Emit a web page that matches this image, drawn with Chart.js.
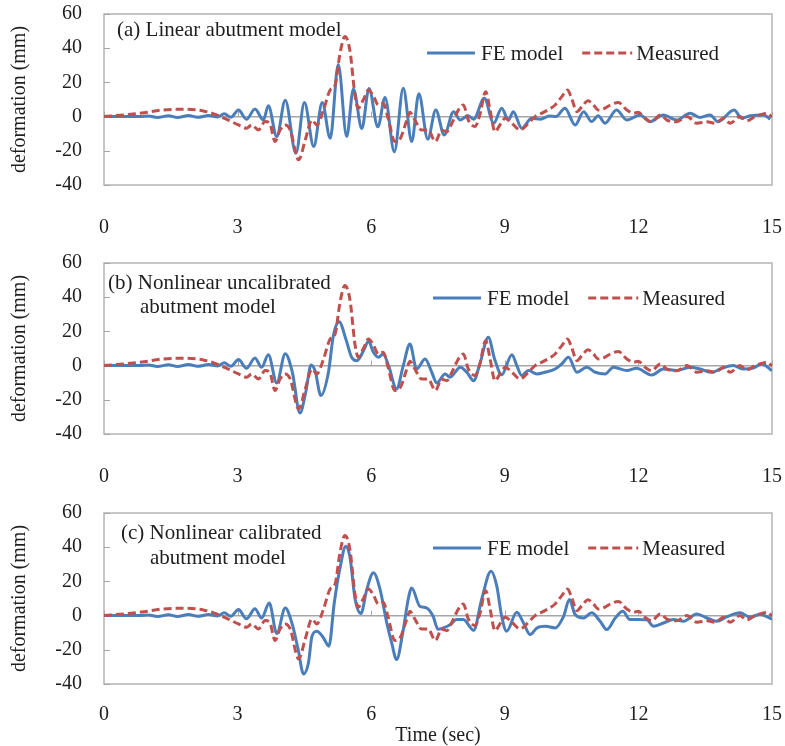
<!DOCTYPE html>
<html><head><meta charset="utf-8">
<script src="https://cdn.jsdelivr.net/npm/chart.js@4.4.0/dist/chart.umd.min.js"></script>
<style>
html,body{margin:0;padding:0;background:#fff;}
#wrap{position:relative;width:785px;height:746px;overflow:hidden;background:#fff;}
.pane{position:absolute;left:0;width:785px;}
</style></head>
<body><div id="wrap">
<div class="pane" style="top:0px;height:245px"><canvas id="ca" width="785" height="245"></canvas></div>
<div class="pane" style="top:245px;height:245px"><canvas id="cb" width="785" height="245"></canvas></div>
<div class="pane" style="top:490px;height:256px"><canvas id="cc" width="785" height="256"></canvas></div>
</div>
<script>
// ---- data (time in sec, deformation in mm) ----
const xTickValues = [0, 3, 6, 9, 12, 15];
const yTickValues = [-40, -20, 0, 20, 40, 60];
const seriesNames = ['FE model', 'Measured'];
const panelTitles = [
  ['(a) Linear abutment model'],
  ['(b) Nonlinear uncalibrated', 'abutment model'],
  ['(c) Nonlinear calibrated', 'abutment model']
];

const measuredTime = [0, 0.45, 0.9, 1.33, 1.78, 2.23, 2.53, 2.79, 3.02, 3.2, 3.32, 3.47, 3.62, 3.73, 3.84, 3.95, 4.07, 4.18, 4.37, 4.52, 4.67, 4.78, 4.93, 5.08, 5.19, 5.3, 5.41, 5.52, 5.64, 5.71, 5.82, 5.94, 6.05, 6.16, 6.27, 6.38, 6.53, 6.66, 6.8, 6.87, 6.98, 7.13, 7.28, 7.44, 7.58, 7.7, 7.81, 7.96, 8.07, 8.18, 8.33, 8.44, 8.57, 8.67, 8.78, 8.89, 9.01, 9.16, 9.34, 9.53, 9.68, 9.9, 10.13, 10.28, 10.41, 10.5, 10.62, 10.73, 10.87, 10.99, 11.1, 11.25, 11.37, 11.55, 11.74, 11.89, 12.0, 12.15, 12.3, 12.49, 12.64, 12.86, 13.09, 13.31, 13.54, 13.72, 13.91, 14.06, 14.28, 14.43, 14.62, 14.81, 14.89, 15.0];
const measuredValue = [0, 1, 2.3, 3.9, 4.3, 3.3, 1, -2, -4.9, -6.8, -4.9, -7.8, -2.9, -4.5, -14.6, -8, -4.9, -7.8, -25.3, -13.6, -2, -4.9, 3.9, 15.6, 18.5, 37, 46.8, 39, 11.7, 4.9, 9.7, 15.6, 12, 6.8, 7.8, -1, -14.6, -12.5, -2, 2.5, -2, -7.8, -7.8, -14.6, -8, -8.8, -4, 3.9, 6.8, -2, -5.8, 1, 14.6, 3.9, -8.8, -4.9, -1, -3.9, -7.8, -3.9, 0, 2.9, 6.8, 11.7, 15.6, 10.7, 2.9, 5.8, 9.2, 6.8, 3.9, 4.9, 6.8, 8.2, 3.9, 2, 2.5, -1, -3, 1, -2, -3, 0, -3.9, -3, -3.9, -1, -3.9, 0, -2.5, 0, 1.6, 2, -0.3];

const feLinearTime = [0, 0.8, 1.0, 1.2, 1.45, 1.65, 1.9, 2.1, 2.35, 2.55, 2.7, 2.85, 3.02, 3.2, 3.39, 3.58, 3.69, 3.88, 4.07, 4.31, 4.5, 4.71, 4.9, 5.08, 5.26, 5.45, 5.6, 5.79, 5.95, 6.15, 6.31, 6.52, 6.72, 6.91, 7.07, 7.27, 7.45, 7.64, 7.85, 8.0, 8.17, 8.3, 8.54, 8.75, 8.93, 9.08, 9.19, 9.38, 9.6, 9.8, 10.0, 10.15, 10.35, 10.58, 10.77, 10.95, 11.1, 11.25, 11.51, 11.74, 12.04, 12.26, 12.56, 12.86, 13.16, 13.38, 13.61, 13.79, 14.15, 14.32, 14.51, 14.81, 14.96];
const feLinearValue = [0, 0, 0.4, -0.5, 0.5, -0.5, 0.6, -0.4, 0.6, -0.2, 1.6, -0.4, 3.9, -1.6, 4.5, -2, 6.4, -11.7, 9.6, -21.4, 8.2, -17.5, 8.2, -12.7, 30.5, -11.7, 16.2, -7, 16.5, -6, 11.2, -20.5, 16.6, -14.6, 13.4, -13.2, 3.9, -10.7, 2.9, -2, 0.5, -1.5, 10.7, -3.9, 4.9, -2, 2.9, -6.8, -1, -1.5, 0.3, 0, 4.9, -4.9, 2.9, -2.9, 0.5, -3.9, 3.9, -2, 1, -3, 1, -2, 2, -0.5, 1, -3, 3.9, -1, 0.5, 1, -1.5];

const feUncalTime = [0, 0.8, 1.0, 1.2, 1.45, 1.65, 1.9, 2.1, 2.35, 2.55, 2.7, 2.85, 3.02, 3.2, 3.39, 3.54, 3.69, 3.88, 4.07, 4.23, 4.4, 4.53, 4.65, 4.74, 4.87, 5.04, 5.15, 5.28, 5.43, 5.56, 5.68, 5.83, 5.94, 6.05, 6.16, 6.27, 6.39, 6.57, 6.72, 6.87, 7.02, 7.21, 7.36, 7.47, 7.66, 7.77, 8.0, 8.15, 8.3, 8.44, 8.63, 8.77, 8.93, 9.16, 9.27, 9.38, 9.53, 9.72, 9.9, 10.13, 10.28, 10.43, 10.62, 10.84, 11.03, 11.25, 11.44, 11.74, 11.96, 12.3, 12.56, 12.86, 13.16, 13.38, 13.65, 13.84, 14.13, 14.36, 14.58, 14.77, 15.0];
const feUncalValue = [0, 0, 0.4, -0.5, 0.5, -0.5, 0.6, -0.4, 0.6, -0.2, 1.6, -0.4, 3.5, -1.6, 4.5, -1, 6.4, -10.2, 7, -3.9, -27.7, -15.6, 0.4, -3, -17.5, -3.9, 17.5, 25.7, 15.6, 4.9, 2.9, 8.8, 14.2, 7.8, 4.9, 6.8, 0, -13.6, 0, 12.7, -2, 3.9, -3.9, -10.2, -4.9, -6.8, -1, -4, -8.8, 1, 16.6, 3.9, -5.3, 6.4, 0, -5.8, -2.9, -4.9, -3.9, -2, 1, 4.9, -3.9, -1, -3.9, -4.9, -1, -2.9, -1.6, -5.5, -2, -2.9, -1, -2, -3.9, -2, 0, -2, -1.5, 1, -3];

const feCalTime = [0, 0.8, 1.0, 1.2, 1.45, 1.65, 1.9, 2.1, 2.35, 2.55, 2.7, 2.85, 3.02, 3.2, 3.39, 3.54, 3.71, 3.88, 4.07, 4.23, 4.36, 4.48, 4.59, 4.67, 4.78, 4.93, 5.05, 5.17, 5.3, 5.43, 5.52, 5.64, 5.77, 5.9, 6.05, 6.2, 6.35, 6.46, 6.57, 6.72, 6.83, 6.91, 7.09, 7.24, 7.39, 7.5, 7.62, 7.77, 7.92, 8.07, 8.3, 8.48, 8.69, 8.82, 8.93, 9.04, 9.27, 9.42, 9.57, 9.72, 9.91, 10.13, 10.32, 10.45, 10.58, 10.77, 10.95, 11.14, 11.29, 11.48, 11.65, 11.81, 12.0, 12.19, 12.34, 12.56, 12.79, 13.01, 13.31, 13.54, 13.76, 13.98, 14.28, 14.51, 14.73, 15.0];
const feCalValue = [0, 0, 0.4, -0.5, 0.5, -0.5, 0.6, -0.4, 0.6, -0.2, 1.6, -0.4, 3.5, -1.9, 4, -1.5, 7.4, -10.5, 4.5, -5.3, -19.9, -34.1, -27.7, -12.1, -9.1, -13.1, -17.9, 7.4, 27.9, 40.6, 34.7, 9.4, 1.2, 15.2, 25, 15.2, -4.3, -16, -25.7, -8.2, 9.4, 16.2, 5.5, 4.5, -0.4, -8, -7.2, -5.3, -2.3, -2.3, -8.6, 9.4, 25.9, 17.2, -0.4, -9.1, 2, -4.3, -11.1, -7.2, -6.2, -7.2, -0.4, 9.4, 0.6, -1.4, 1.6, -3.3, -8.2, -1.4, 2.5, -2.3, -2.3, -2.5, -6.2, -4.3, -2.3, -3.3, 1, -1.4, -3.3, -0.8, 1.6, -0.8, 0.6, -2];

// ---- styling / layout ----
const FONT = "'Liberation Serif', 'Times New Roman', serif";
const TEXT = '#1e1e1e';
const BLUE = '#4A7EBB';
const RED = '#C0504D';

function pts(t, v) { return t.map((x, i) => ({ x: x, y: v[i] })); }

const panelDeco = {
  id: 'panelDeco',
  beforeDatasetsDraw(chart, args, o) {
    const { ctx, chartArea: a, scales: { x, y } } = chart;
    ctx.save();
    ctx.strokeStyle = '#b4b4b4';
    ctx.lineWidth = 1.5;
    ctx.strokeRect(a.left, a.top, a.width, a.height);
    ctx.strokeStyle = '#a6a6a6';
    ctx.lineWidth = 1;
    yTickValues.forEach(v => {
      const py = Math.round(y.getPixelForValue(v)) + 0.5;
      ctx.beginPath(); ctx.moveTo(a.left, py); ctx.lineTo(a.left + 6, py); ctx.stroke();
    });
    const y0 = y.getPixelForValue(0);
    xTickValues.forEach(v => {
      const px = Math.round(x.getPixelForValue(v)) + 0.5;
      ctx.beginPath(); ctx.moveTo(px, y0); ctx.lineTo(px, y0 - 5); ctx.stroke();
    });
    ctx.restore();
  },
  afterDatasetsDraw(chart, args, o) {
    const { ctx, chartArea: a } = chart;
    ctx.save();
    ctx.font = '21px ' + FONT;
    ctx.fillStyle = TEXT;
    ctx.textBaseline = 'alphabetic';
    ctx.textAlign = 'left';
    o.title.forEach((ln, i) => ctx.fillText(ln, o.titlePos[i][0], o.titlePos[i][1]));
    // legend
    let cx = o.legendX;
    const cy = a.top + o.legendDy;
    const lens = [48, 50], gapsT = [6, 4];
    chart.data.datasets.forEach((ds, i) => {
      ctx.strokeStyle = ds.borderColor;
      ctx.lineWidth = ds.borderWidth;
      ctx.setLineDash(ds.borderDash || []);
      ctx.beginPath(); ctx.moveTo(cx, cy); ctx.lineTo(cx + lens[i], cy); ctx.stroke();
      ctx.setLineDash([]);
      cx += lens[i] + gapsT[i];
      ctx.textBaseline = 'middle';
      ctx.fillText(ds.label, cx, cy + 1);
      cx += ctx.measureText(ds.label).width + 19;
    });
    ctx.restore();
  }
};

function makePanel(id, feT, feV, cfg) {
  const canvas = document.getElementById(id);
  const H = canvas.height;
  return new Chart(canvas, {
    type: 'line',
    data: {
      datasets: [
        { label: seriesNames[0], data: pts(feT, feV), borderColor: BLUE, backgroundColor: BLUE, borderWidth: 3,
          pointRadius: 0, cubicInterpolationMode: 'monotone', tension: 0.4, fill: false, order: 1 },
        { label: seriesNames[1], data: pts(measuredTime, measuredValue), borderColor: RED, backgroundColor: RED, borderWidth: 3,
          borderDash: [8, 4], pointRadius: 0, cubicInterpolationMode: 'monotone', tension: 0.4, fill: false, order: 0 }
      ]
    },
    options: {
      responsive: false, animation: false, devicePixelRatio: 1,
      layout: { padding: { top: cfg.top, right: 13, left: 0, bottom: 0 } },
      plugins: {
        legend: { display: false }, tooltip: { enabled: false },
        panelDeco: { title: cfg.title, titlePos: cfg.titlePos, legendX: cfg.legendX, legendDy: cfg.legendDy }
      },
      scales: {
        x: {
          type: 'linear', min: 0, max: 15,
          afterFit: s => { s.height = H - cfg.bottom; s.paddingLeft = 0; s.paddingRight = 0; },
          grid: { display: false }, border: { display: false },
          ticks: { stepSize: 3, padding: cfg.xPad, color: TEXT, font: { family: FONT, size: 20 }, maxRotation: 0 },
          title: cfg.xTitle ? { display: true, text: 'Time (sec)', color: TEXT, font: { family: FONT, size: 20, lineHeight: 1 }, padding: { top: 0, bottom: 0 } } : { display: false }
        },
        y: {
          min: -40, max: 60,
          afterFit: s => { s.width = 104; s.paddingTop = 0; s.paddingBottom = 0; },
          grid: { drawTicks: false, lineWidth: 1.5, color: c => (c.tick && c.tick.value === 0) ? '#a6a6a6' : 'rgba(0,0,0,0)' },
          border: { display: false },
          ticks: { stepSize: 20, padding: 22, color: TEXT, font: { family: FONT, size: 20 } },
          title: { display: true, text: 'deformation (mm)', color: TEXT, font: { family: FONT, size: 20, lineHeight: 1.2 }, padding: { top: 8, bottom: 0 } }
        }
      }
    },
    plugins: [panelDeco]
  });
}

makePanel('ca', feLinearTime, feLinearValue, {
  top: 14, bottom: 185, xPad: 23, xTitle: false,
  title: panelTitles[0], titlePos: [[117, 36]], legendX: 427, legendDy: 39
});
makePanel('cb', feUncalTime, feUncalValue, {
  top: 18, bottom: 189, xPad: 23, xTitle: false,
  title: panelTitles[1], titlePos: [[108, 44], [140, 68]], legendX: 433, legendDy: 35
});
makePanel('cc', feCalTime, feCalValue, {
  top: 23, bottom: 194, xPad: 11, xTitle: true,
  title: panelTitles[2], titlePos: [[121, 49], [150, 74]], legendX: 433, legendDy: 35
});
</script>
</body></html>
